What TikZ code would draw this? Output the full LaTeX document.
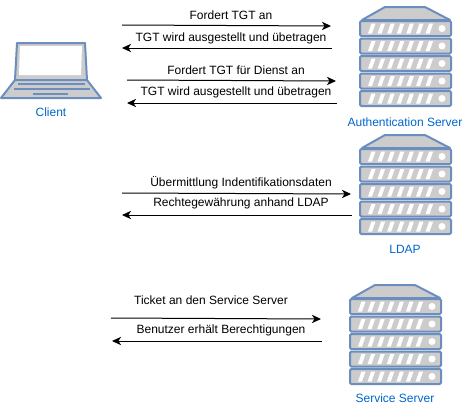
\documentclass[tikz,border=0pt]{standalone}
\usepackage{fontspec}
\setmainfont{Liberation Sans}
\usetikzlibrary{arrows.meta}

\definecolor{rackline}{HTML}{6C8EBF}
\definecolor{rackfill}{HTML}{CCCCCC}
\definecolor{captionblue}{HTML}{0066CC}

\tikzset{
  pics/server/.style={code={
    \draw[rackline, fill=rackfill, line width=1.5pt, line join=round] (2,13) -- (25,0) -- (65,0) -- (90,13) -- cycle;
    \foreach \row in {0,...,4} {
      \begin{scope}[yshift={-\row*17.5*0.75pt}]
        \draw[rackline, fill=rackfill, line width=1.5pt, rounded corners=1pt] (0,14) rectangle (91,29);
        \foreach \stripe in {0,...,6} {
          \fill[white] ({8+\stripe*9.6},26.5) -- ({12+\stripe*9.6},26.5) -- ({15.5+\stripe*9.6},16.5) -- ({11.5+\stripe*9.6},16.5) -- cycle;
        }
        \fill[white] (82,21.5) circle (3.5);
      \end{scope}
    }
  }},
  pics/laptop/.style={code={
    \draw[rackline, fill=rackfill, line width=1.5pt, line join=round] (17,43) -- (85,43) -- (87,80) -- (15,80) -- cycle;
    \fill[white] (20,46) -- (82,46) -- (81,75) -- (19,75) -- cycle;
    \draw[rackline, fill=rackfill, line width=1.5pt, line join=round] (15,80) -- (87,80) -- (101,98) -- (1,98) -- cycle;
    \draw[rackline, line width=1pt] (18,84) -- (85,84);
    \draw[rackline, line width=1pt] (14,89) -- (90,89);
    \draw[rackline, line width=1.5pt] (33,93.5) -- (68,93.5);
  }},
}

\begin{document}
\begin{tikzpicture}[
  x=0.75pt, y=-0.75pt,
  arrow/.style={-{Stealth[length=2.4mm,width=2.2mm,inset=0.7mm]}, line width=0.75pt},
  msg/.style={font=\fontsize{9}{11}\selectfont, inner sep=0pt},
  caption/.style={font=\fontsize{9}{11}\selectfont, text=captionblue, inner sep=0pt},
]
\useasboundingbox (0,0) rectangle (463,407);

% === MACHINES ===
\pic at (0,0) {laptop};
\pic at (360,7) {server};
\pic at (360,135) {server};
\pic at (350,285) {server};

\node[caption] (client) at (51,112) {Client};
\node[caption] (auth) at (405,122) {Authentication Server};
\node[caption] (ldap) at (405,249) {LDAP};
\node[caption] (service) at (395,398) {Service Server};

% === AUTHENTICATION ===
\coordinate (a1) at (122,25);  \coordinate (b1) at (331,26);
\coordinate (a2) at (332,48);  \coordinate (b2) at (122,48);
\coordinate (a3) at (127,80);  \coordinate (b3) at (336,81);
\coordinate (a4) at (337,103); \coordinate (b4) at (127,103);
\draw[arrow] (a1) -- (b1);
\draw[arrow] (a2) -- (b2);
\draw[arrow] (a3) -- (b3);
\draw[arrow] (a4) -- (b4);
\node[msg] (m1) at (231,15) {Fordert TGT an};
\node[msg] (m2) at (231,38) {TGT wird ausgestellt und übetragen};
\node[msg] (m3) at (236,70) {Fordert TGT für Dienst an};
\node[msg] (m4) at (236,92) {TGT wird ausgestellt und übetragen};

% === LDAP ===
\coordinate (a5) at (122,193); \coordinate (b5) at (351,194);
\coordinate (a6) at (352,215); \coordinate (b6) at (122,215);
\draw[arrow] (a5) -- (b5);
\draw[arrow] (a6) -- (b6);
\node[msg] (m5) at (241,183) {Übermittlung Indentifikationsdaten};
\node[msg] (m6) at (241,203) {Rechtegewährung anhand LDAP};

% === SERVICE ===
\coordinate (a7) at (111,318); \coordinate (b7) at (321,319);
\coordinate (a8) at (322,341); \coordinate (b8) at (112,341);
\draw[arrow] (a7) -- (b7);
\draw[arrow] (a8) -- (b8);
\node[msg] (m7) at (211,300) {Ticket an den Service Server};
\node[msg] (m8) at (221,330) {Benutzer erhält Berechtigungen};
\end{tikzpicture}
\end{document}
